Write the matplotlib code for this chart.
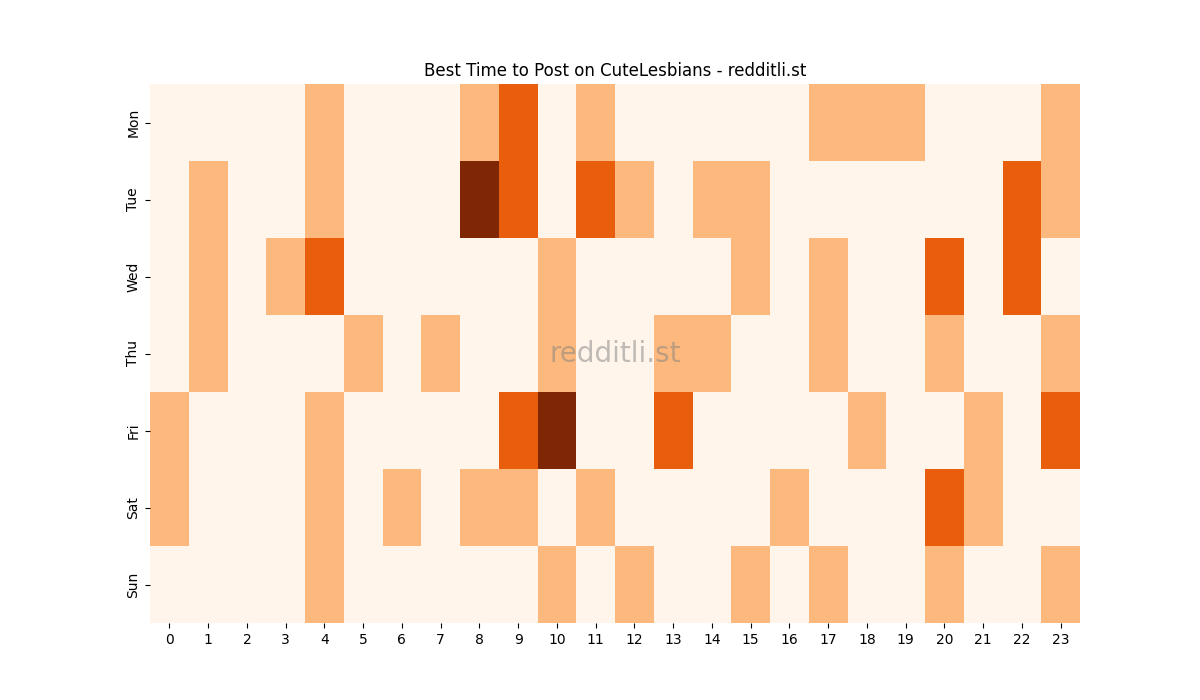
import matplotlib
matplotlib.use("Agg")
import matplotlib.pyplot as plt
import numpy as np

days = ["Mon", "Tue", "Wed", "Thu", "Fri", "Sat", "Sun"]
hours = list(range(24))
mon = {4: 1, 8: 1, 9: 2, 11: 1, 17: 1, 18: 1, 19: 1, 23: 1}
tue = {1: 1, 4: 1, 8: 3, 9: 2, 11: 2, 12: 1, 14: 1, 15: 1, 22: 2, 23: 1}
wed = {1: 1, 3: 1, 4: 2, 10: 1, 15: 1, 17: 1, 20: 2, 22: 2}
thu = {1: 1, 5: 1, 7: 1, 10: 1, 13: 1, 14: 1, 17: 1, 20: 1, 23: 1}
fri = {0: 1, 4: 1, 9: 2, 10: 3, 13: 2, 18: 1, 21: 1, 23: 2}
sat = {0: 1, 4: 1, 6: 1, 8: 1, 9: 1, 11: 1, 16: 1, 20: 2, 21: 1}
sun = {4: 1, 10: 1, 12: 1, 15: 1, 17: 1, 20: 1, 23: 1}

rows = [mon, tue, wed, thu, fri, sat, sun]
data = np.array([[r.get(h, 0) for h in hours] for r in rows], dtype=float)

fig = plt.figure(figsize=(12, 7), dpi=100)
ax = fig.add_subplot(111)
ax.pcolormesh(data, cmap="Oranges", vmin=0, vmax=3)
ax.set_xlim(0, 24)
ax.set_ylim(7, 0)
ax.set_xticks(np.arange(24) + 0.5)
ax.set_xticklabels([str(h) for h in hours])
ax.set_yticks(np.arange(7) + 0.5)
ax.set_yticklabels(days, rotation=90, va="center")
for s in ax.spines.values():
    s.set_visible(False)
ax.set_title("Best Time to Post on CuteLesbians - redditli.st")
ax.text(0.5, 0.5, "redditli.st", transform=ax.transAxes, ha="center", va="center",
        fontsize=20, color="gray", alpha=0.5)
fig.savefig("out.png")
